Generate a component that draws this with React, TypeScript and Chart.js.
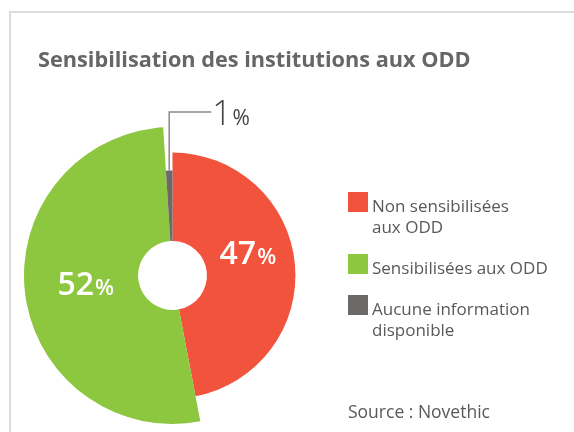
import React, { useEffect, useRef } from "react";
import { Chart, registerables } from "chart.js";

Chart.register(...registerables);

// ---- data ----
const TITLE = "Sensibilisation des institutions aux ODD";
const categories = [
  "Non sensibilisées\naux ODD",
  "Sensibilisées aux ODD",
  "Aucune information\ndisponible",
];
const values = [47, 52, 1];
const SOURCE = "Source : Novethic";

// ---- styles ----
const colors = ["#F2533C", "#8DC63F", "#6D6969"];
const radiusScale = [0.828, 1, 0.707]; // relative outer radius per slice
const labelOffsets = [
  [-3, -4],
  [4, 8],
];
const FONT = "'Open Sans', 'Noto Sans', sans-serif";

const perSliceRadius = {
  id: "perSliceRadius",
  afterDatasetsUpdate(chart: any) {
    const meta = chart.getDatasetMeta(0);
    meta.data.forEach((arc: any, i: number) => {
      arc.outerRadius = arc.outerRadius * (radiusScale[i] ?? 1);
    });
  },
};

const sliceLabels = {
  id: "sliceLabels",
  afterDatasetsDraw(chart: any) {
    const ctx = chart.ctx as CanvasRenderingContext2D;
    const meta = chart.getDatasetMeta(0);
    const data = chart.data.datasets[0].data as number[];
    meta.data.forEach((arc: any, i: number) => {
      const { x, y, startAngle, endAngle, innerRadius, outerRadius } = arc;
      const mid = (startAngle + endAngle) / 2;
      const big = String(data[i]);
      const small = "%";
      ctx.save();
      ctx.textBaseline = "alphabetic";
      ctx.textAlign = "left";
      if (i < 2) {
        const r = (innerRadius + outerRadius) / 2;
        const cx = x + Math.cos(mid) * r + labelOffsets[i][0];
        const cy = y + Math.sin(mid) * r + labelOffsets[i][1];
        ctx.fillStyle = "#ffffff";
        ctx.font = `600 32px ${FONT}`;
        const wb = ctx.measureText(big).width;
        ctx.font = `600 22px ${FONT}`;
        const ws = ctx.measureText(small).width;
        const sx = cx - (wb + ws + 1) / 2;
        ctx.font = `600 32px ${FONT}`;
        ctx.fillText(big, sx, cy);
        ctx.font = `600 22px ${FONT}`;
        ctx.fillText(small, sx + wb + 1, cy);
      } else {
        const px = x + Math.cos(mid) * outerRadius;
        const py = y + Math.sin(mid) * outerRadius;
        const topY = py - 58.5;
        const endX = px + 42;
        ctx.strokeStyle = "#8a8a8a";
        ctx.lineWidth = 1.5;
        ctx.beginPath();
        ctx.moveTo(px, py);
        ctx.lineTo(px, topY);
        ctx.lineTo(endX, topY);
        ctx.stroke();
        ctx.fillStyle = "#444444";
        ctx.font = `300 34px ${FONT}`;
        const tx = endX + 1;
        const ty = topY + 13;
        ctx.fillText(big, tx, ty);
        const wb = ctx.measureText(big).width;
        ctx.font = `400 21px ${FONT}`;
        ctx.fillText(small, tx + wb + 1, ty);
      }
      ctx.restore();
    });
  },
};

export default function App() {
  const canvasRef = useRef<HTMLCanvasElement | null>(null);

  useEffect(() => {
    if (!canvasRef.current) return;
    const chart = new Chart(canvasRef.current, {
      type: "doughnut",
      data: {
        labels: categories,
        datasets: [
          {
            data: values,
            backgroundColor: colors,
            borderWidth: 0,
            hoverOffset: 0,
          },
        ],
      },
      options: {
        responsive: false,
        animation: false,
        cutout: "23.2%",
        rotation: 0,
        layout: { padding: { left: 24, top: 127, right: 253, bottom: 8 } },
        plugins: {
          legend: { display: false },
          title: { display: false },
          tooltip: { enabled: false },
        },
        events: [],
      },
      plugins: [perSliceRadius, sliceLabels],
    });
    return () => chart.destroy();
  }, []);

  return (
    <div
      style={{
        position: "absolute",
        left: 0,
        top: 0,
        width: 574,
        height: 432,
        overflow: "hidden",
        background: "#ffffff",
        fontFamily: FONT,
      }}
    >
      <div
        style={{
          position: "absolute",
          left: 9,
          top: 11,
          width: 600,
          height: 500,
          borderLeft: "2px solid #dcdcdc",
          borderTop: "2px solid #dcdcdc",
        }}
      />
      <canvas
        ref={canvasRef}
        width={574}
        height={432}
        style={{ position: "absolute", left: 0, top: 0, width: 574, height: 432 }}
      />
      <div
        style={{
          position: "absolute",
          left: 38,
          top: 48,
          fontSize: 21.7,
          lineHeight: "21px",
          fontWeight: 700,
          color: "#666666",
          whiteSpace: "nowrap",
        }}
      >
        {TITLE}
      </div>
      <div style={{ position: "absolute", left: 348, top: 192 }}>
        {categories.map((c, i) => (
          <div
            key={i}
            style={{ display: "flex", alignItems: "flex-start", marginBottom: 17 }}
          >
            <div
              style={{
                width: 20,
                height: 20,
                background: colors[i],
                marginRight: 4,
                flex: "none",
              }}
            />
            <div
              style={{
                marginTop: 3,
                fontSize: 17,
                lineHeight: "21px",
                color: "#595959",
                whiteSpace: "pre-line",
              }}
            >
              {c}
            </div>
          </div>
        ))}
      </div>
      <div
        style={{
          position: "absolute",
          left: 348,
          top: 401,
          fontSize: 17.5,
          lineHeight: "21px",
          color: "#595959",
          whiteSpace: "nowrap",
        }}
      >
        {SOURCE}
      </div>
    </div>
  );
}
